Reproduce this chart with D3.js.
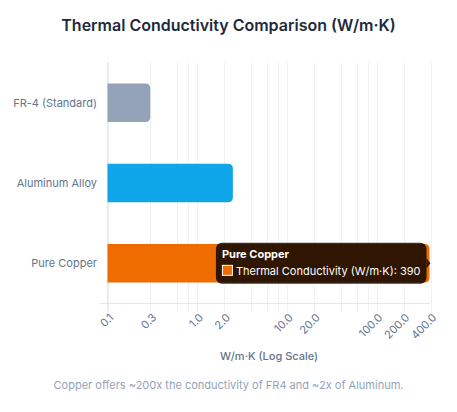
<!DOCTYPE html>
<html>
<head>
<meta charset="utf-8">
<script src="https://cdn.jsdelivr.net/npm/d3@7"></script>
<style>
  body { margin: 0; background: #ffffff; font-family: Inter, "Noto Sans", sans-serif; }
</style>
</head>
<body>
<div id="chart"></div>
<script>
// chart data
var materials = ["FR-4 (Standard)", "Aluminum Alloy", "Pure Copper"];
var conductivity = [0.3, 2.5, 390];
var barColors = ["#94a3b8", "#0ea5e9", "#ef6c00"];
var gridValues = [0.1, 0.3, 0.6, 0.8, 1, 2, 4, 6, 8, 10, 20, 40, 60, 80, 100, 200, 400];
var tickLabels = [0.1, 0.3, 1, 2, 10, 20, 100, 200, 400];
var hovered = 2; // tooltip shown on Pure Copper

var width = 457;
var height = 412;

const svg = d3.select("#chart")
  .append("svg")
  .attr("width", width)
  .attr("height", height);

// scales
const x = d3.scaleLog()
  .domain([0.1, 400])
  .range([107.5, 430.5]);

const y = d3.scaleBand()
  .domain(materials)
  .range([62.5, 303.5]);

// title
svg.append("text")
  .attr("x", width / 2)
  .attr("y", 31)
  .attr("text-anchor", "middle")
  .style("font-size", "16px")
  .style("font-weight", 600)
  .style("fill", "#1e293b")
  .text("Thermal Conductivity Comparison (W/m·K)");

// vertical grid lines (extend a little below the axis as ticks)
svg.append("g")
  .selectAll("line")
  .data(gridValues)
  .enter()
  .append("line")
  .attr("x1", d => Math.round(x(d)) + 0.5)
  .attr("x2", d => Math.round(x(d)) + 0.5)
  .attr("y1", y.range()[0])
  .attr("y2", y.range()[1] + 8)
  .style("stroke", "#eef1f5")
  .style("stroke-width", 1);

// axis lines
svg.append("line")
  .attr("x1", x.range()[0]).attr("x2", x.range()[0])
  .attr("y1", y.range()[0]).attr("y2", y.range()[1] + 8)
  .style("stroke", "#e2e8f0");
svg.append("line")
  .attr("x1", x.range()[0] - 8).attr("x2", x.range()[1])
  .attr("y1", y.range()[1]).attr("y2", y.range()[1])
  .style("stroke", "#e2e8f0");

// bars, rounded at the value end
var barH = y.bandwidth() * 0.48;
function barPath(i) {
  var x0 = x.range()[0];
  var x1 = x(conductivity[i]);
  var y0 = y(materials[i]) + (y.bandwidth() - barH) / 2;
  var r = 5;
  return "M" + x0 + "," + y0 +
    "H" + (x1 - r) +
    "Q" + x1 + "," + y0 + " " + x1 + "," + (y0 + r) +
    "V" + (y0 + barH - r) +
    "Q" + x1 + "," + (y0 + barH) + " " + (x1 - r) + "," + (y0 + barH) +
    "H" + x0 + "Z";
}

svg.append("g")
  .selectAll("path")
  .data(materials)
  .enter()
  .append("path")
  .attr("d", (d, i) => barPath(i))
  .style("fill", (d, i) => barColors[i]);

// category labels
svg.append("g")
  .selectAll("text")
  .data(materials)
  .enter()
  .append("text")
  .attr("x", 97)
  .attr("y", d => y(d) + y.bandwidth() / 2)
  .attr("dy", "0.35em")
  .attr("text-anchor", "end")
  .style("font-size", "11px")
  .style("fill", "#64748b")
  .text(d => d);

// x tick labels, rotated
svg.append("g")
  .selectAll("text")
  .data(tickLabels)
  .enter()
  .append("text")
  .attr("transform", d => "translate(" + (x(d) + 4) + "," + (y.range()[1] + 12) + ") rotate(-45)")
  .attr("text-anchor", "end")
  .attr("dy", "0.35em")
  .style("font-size", "11px")
  .style("fill", "#64748b")
  .text(d => d.toFixed(1));

// axis title
svg.append("text")
  .attr("x", (x.range()[0] + x.range()[1]) / 2)
  .attr("y", 360)
  .attr("text-anchor", "middle")
  .style("font-size", "11px")
  .style("font-weight", 500)
  .style("fill", "#64748b")
  .text("W/m·K (Log Scale)");

// footnote
svg.append("text")
  .attr("x", width / 2)
  .attr("y", 389)
  .attr("text-anchor", "middle")
  .style("font-size", "11px")
  .style("fill", "#94a3b8")
  .text("Copper offers ~200x the conductivity of FR4 and ~2x of Aluminum.");

// tooltip on the hovered bar
var tip = svg.append("g");
var tipRight = x(conductivity[hovered]) - 3;
var tipCy = y(materials[hovered]) + y.bandwidth() / 2;
var tipBox = tip.append("rect");
var tipCaret = tip.append("path");
var tipTitle = tip.append("text")
  .style("font-size", "11px")
  .style("font-weight", 700)
  .style("fill", "#ffffff")
  .text(materials[hovered]);
var tipBody = tip.append("text")
  .style("font-size", "11px")
  .style("fill", "#ffffff")
  .text("Thermal Conductivity (W/m·K): " + conductivity[hovered]);

var bodyW = tipBody.node().getComputedTextLength();
var tipW = bodyW + 6 + 14 + 6;
var tipH = 41;
var tipLeft = tipRight - tipW;
var tipTop = tipCy - tipH / 2;

tipBox
  .attr("x", tipLeft).attr("y", tipTop)
  .attr("width", tipW).attr("height", tipH)
  .attr("rx", 6)
  .style("fill", "rgba(0,0,0,0.8)");
tipCaret
  .attr("d", "M" + tipRight + "," + (tipCy - 5) + "L" + (tipRight + 4) + "," + tipCy + "L" + tipRight + "," + (tipCy + 5) + "Z")
  .style("fill", "rgba(0,0,0,0.8)");
tipTitle.attr("x", tipLeft + 6).attr("y", tipTop + 15);
tip.append("rect")
  .attr("x", tipLeft + 6.5).attr("y", tipTop + 22.5)
  .attr("width", 10).attr("height", 10)
  .style("fill", barColors[hovered])
  .style("stroke", "#ffffff")
  .style("stroke-width", 1);
tipBody.attr("x", tipLeft + 20).attr("y", tipTop + 32);
</script>
</body>
</html>
